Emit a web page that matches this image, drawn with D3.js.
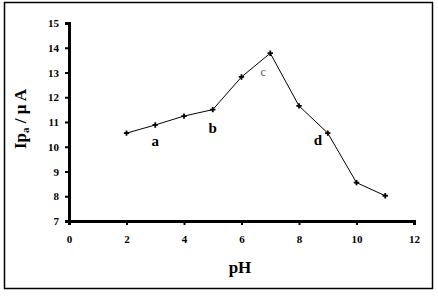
<!DOCTYPE html>
<html lang="en">
<head>
  <meta charset="UTF-8" />
  <title>Ipa vs pH</title>
  <script src="https://cdn.jsdelivr.net/npm/d3@7"></script>
  <style>
    body {
      margin: 0;
      background: #fff;
    }
    svg {
      display: block;
      font-family: "Liberation Serif", "Times New Roman", serif;
      font-weight: bold;
    }
  </style>
</head>
<body>
  <div id="chart"></div>

  <script>
    const pH = [2, 3, 4, 5, 6, 7, 8, 9, 10, 11];
    const current = [10.55, 10.88, 11.24, 11.5, 12.82, 13.78, 11.65, 10.55, 8.55, 8.02];
    const xTicks = [0, 2, 4, 6, 8, 10, 12];
    const yTicks = [7, 8, 9, 10, 11, 12, 13, 14, 15];
    const pointLabels = [
      { x: 3, y: 10.03, text: "a" },
      { x: 5, y: 10.56, text: "b" },
      { x: 6.75, y: 12.85, text: "c" },
      { x: 8.66, y: 10.07, text: "d" }
    ];

    const width = 438;
    const height = 296;
    const plotLeft = 69, plotRight = 414, plotTop = 23, plotBottom = 221;

    const svg = d3.select("#chart")
      .append("svg")
      .attr("width", width)
      .attr("height", height);

    // frame
    svg.append("rect")
      .attr("x", 4.5)
      .attr("y", 2.5)
      .attr("width", 428)
      .attr("height", 286)
      .attr("fill", "none")
      .attr("stroke", "black")
      .attr("stroke-width", 1.5);

    const x = d3.scaleLinear().domain([0, 12]).range([plotLeft, plotRight]);
    const y = d3.scaleLinear().domain([7, 15]).range([plotBottom, plotTop]);

    const xAxis = svg.append("g")
      .attr("transform", `translate(0, ${plotBottom})`)
      .call(d3.axisBottom(x).tickValues(xTicks).tickSize(4).tickPadding(10));

    const yAxis = svg.append("g")
      .attr("transform", `translate(${plotLeft}, 0)`)
      .call(d3.axisLeft(y).tickValues(yTicks).tickSize(4).tickPadding(6));

    [xAxis, yAxis].forEach(g => {
      g.select(".domain").attr("stroke-width", 3);
      g.selectAll(".tick line").attr("stroke-width", 2);
      g.selectAll(".tick text")
        .attr("font-family", "Liberation Serif, serif")
        .attr("font-weight", "bold")
        .attr("font-size", 11);
    });

    const line = d3.line()
      .x((d, i) => x(pH[i]))
      .y(d => y(d));

    svg.append("path")
      .datum(current)
      .attr("d", line)
      .attr("fill", "none")
      .attr("stroke", "black")
      .attr("stroke-width", 1);

    svg.selectAll(".pt")
      .data(current)
      .enter()
      .append("path")
      .attr("class", "pt")
      .attr("transform", (d, i) => `translate(${x(pH[i])}, ${y(d)})`)
      .attr("d", d3.symbol().type(d3.symbolCross).size(16))
      .attr("fill", "black");

    svg.selectAll(".lbl")
      .data(pointLabels)
      .enter()
      .append("text")
      .attr("class", "lbl")
      .attr("x", d => x(d.x))
      .attr("y", d => y(d.y))
      .attr("text-anchor", "middle")
      .attr("font-size", d => d.text === "c" ? 12 : 15)
      .attr("fill", d => d.text === "c" ? "#555" : "black")
      .attr("font-weight", d => d.text === "c" ? "normal" : "bold")
      .text(d => d.text);

    // axis titles
    svg.append("text")
      .attr("x", 240)
      .attr("y", 273)
      .attr("text-anchor", "middle")
      .attr("font-size", 17)
      .text("pH");

    const yTitle = svg.append("text")
      .attr("transform", "translate(26, 119) rotate(-90)")
      .attr("text-anchor", "middle")
      .attr("font-size", 17);
    yTitle.append("tspan").text("Ip");
    yTitle.append("tspan").attr("font-size", 11).attr("dy", 3).text("a");
    yTitle.append("tspan").attr("dy", -3).text(" / \u00b5 A");
  </script>
</body>
</html>
